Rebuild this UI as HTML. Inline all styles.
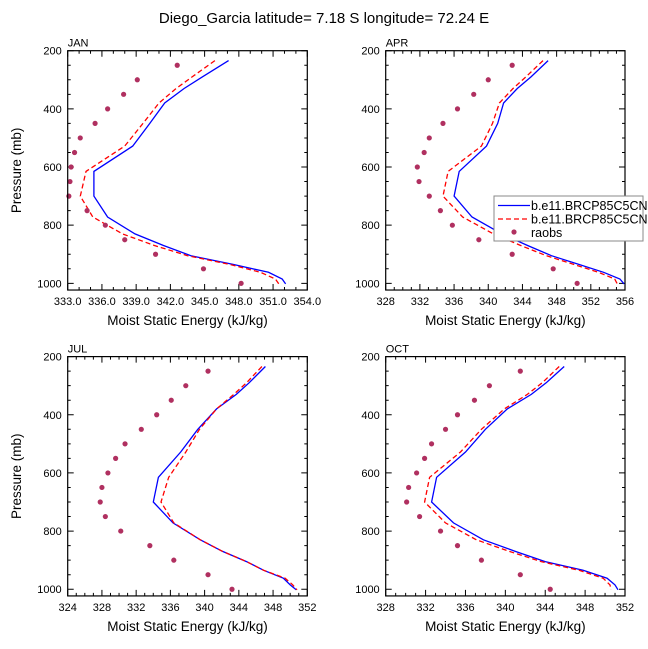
<!DOCTYPE html>
<html><head><meta charset="utf-8"><style>
html,body{margin:0;padding:0;background:#fff;overflow:hidden}
svg{display:block;font-family:"Liberation Sans",sans-serif}
</style></head><body>
<svg id="c" width="648" height="649" viewBox="0 0 648 649">
<text x="324" y="23" text-anchor="middle" font-size="15">Diego_Garcia  latitude= 7.18 S longitude= 72.24 E</text>
</svg>
<script>
const modelP=[234,290,330,380,450,528,615,700,772,830,870,905,935,962,985,1002];
const obsP=[250,300,350,400,450,500,550,600,650,700,750,800,850,900,950,1000];
const janBlue=[347.1,344.8,343.2,341.5,340.2,338.7,335.3,335.3,336.5,338.9,341.4,343.8,347.5,350.6,351.8,352.1];
const janRed=[345.9,343.9,342.5,341.0,339.6,338.0,334.6,334.1,335.2,337.8,340.6,343.5,347.2,349.9,351.2,351.5];
const janObs=[342.6,339.1,337.9,336.5,335.4,334.1,333.6,333.3,333.2,333.1,334.7,336.3,338.0,340.7,344.9,348.2];
const aprBlue=[347.0,345.0,343.4,341.8,341.1,339.8,336.6,336.0,338.1,341.6,344.6,347.4,350.6,353.5,355.4,355.9];
const aprRed=[346.4,344.4,342.9,341.3,340.5,339.2,335.3,334.7,337.0,340.6,343.8,346.8,350.0,352.9,354.8,355.1];
const aprObs=[342.8,340.0,338.3,336.4,334.7,333.1,332.5,331.7,331.9,333.1,334.4,335.8,338.9,342.8,347.6,350.4];
const julBlue=[347.1,345.2,343.7,341.4,339.2,337.2,334.6,334.0,336.3,339.5,342.1,344.9,346.9,349.2,350.0,350.7];
const julRed=[346.7,344.9,343.4,341.4,339.4,337.8,335.8,334.9,336.4,339.5,342.1,344.9,346.9,349.4,350.3,350.8];
const julObs=[340.4,337.8,336.1,334.4,332.6,330.7,329.6,328.7,328.0,327.8,328.4,330.2,333.6,336.4,340.4,343.2];
const octBlue=[345.9,344.1,342.6,340.2,338.0,336.0,333.1,332.6,334.8,337.8,341.0,344.0,347.8,350.2,351.0,351.3];
const octRed=[345.4,343.7,342.2,339.9,337.6,335.5,332.4,331.9,334.0,337.1,340.4,343.6,347.4,349.8,350.5,350.6];
const octObs=[341.5,338.4,336.9,335.2,334.0,332.6,331.9,331.1,330.3,330.1,331.4,333.5,335.2,337.6,341.5,344.5];
const yTicks=[200,400,600,800,1000];
const janTicks=["333.0","336.0","339.0","342.0","345.0","348.0","351.0","354.0"];
const aprTicks=["328","332","336","340","344","348","352","356"];
const julTicks=["324","328","332","336","340","344","348","352"];
const octTicks=["328","332","336","340","344","348","352"];

const NS="http://www.w3.org/2000/svg";
const svg=document.getElementById('c');
function mk(t,a,p){const e=document.createElementNS(NS,t);for(const k in a)e.setAttribute(k,a[k]);(p||svg).appendChild(e);return e;}

function panel(name,x0,x1,y0,xmin,xmax,xstep,xminor,xt,blue,red,obs,ytitle){
  const g=mk('g',{});
  
  
  const pTop=200,pBot=1023;
  const y1=y0+ (pBot-pTop)*0.2908;
  const sx=v=>x0+(v-xmin)/(xmax-xmin)*(x1-x0);
  const sy=p=>y0+(p-pTop)*0.2908;
  let d='';
  for(let v=xmin;v<=xmax+1e-6;v+=xminor){const X=sx(v);const L=(Math.abs((v-xmin)/xstep-Math.round((v-xmin)/xstep))<1e-6)?6:3;d+=`M${X},${y1}v${-L}M${X},${y0}v${L}`;}
  for(let p=200;p<=1000;p+=50){const Y=sy(p);const L=p%200===0?6:3;d+=`M${x0},${Y}h${L}M${x1},${Y}h${-L}`;}
  const tk=mk('path',{d:d,stroke:'#000','stroke-width':1,fill:'none'},g);
  
  
  xt.forEach((lab,i)=>{const t=mk('text',{x:sx(xmin+i*xstep),y:y1+15,'text-anchor':'middle','font-size':11},g);t.textContent=lab;
    
    });
  yTicks.forEach(p=>{const t=mk('text',{x:x0-6,y:sy(p)+4,'text-anchor':'end','font-size':11},g);t.textContent=p;
    
    });
  const xt2=mk('text',{x:(x0+x1)/2,y:y1+35,'text-anchor':'middle','font-size':13.5},g);xt2.textContent='Moist Static Energy (kJ/kg)';
  
  
  if(ytitle){const cy=(y0+y1)/2;const t=mk('text',{x:17,y:cy,'text-anchor':'middle','font-size':13.5,transform:`rotate(-90 17 ${cy})`,dy:'4'},g);t.textContent='Pressure (mb)';
    
    }
  const lb=mk('text',{x:x0,y:y0-4,'font-size':11},g);lb.textContent=name.toUpperCase();
  
  
  const pts=a=>a.map((v,i)=>sx(v).toFixed(1)+','+sy(modelP[i]).toFixed(1)).join(' ');
  const bl=mk('polyline',{points:pts(blue),fill:'none',stroke:'#0000ff','stroke-width':1.3},g);
  
  
  const rl=mk('polyline',{points:pts(red),fill:'none',stroke:'#ff0000','stroke-width':1.3,'stroke-dasharray':'5,3'},g);
  
  
  obs.forEach((v,i)=>{const c=mk('circle',{cx:sx(v),cy:sy(obsP[i]),r:2.6,fill:'#b03060'},g);
    
    });
  const fr=mk('rect',{x:x0,y:y0,width:x1-x0,height:y1-y0,fill:'none',stroke:'#000','stroke-width':1.2},g);
  
  
}
panel('jan',67.7,307.3,50.7,333,354,3,1,janTicks,janBlue,janRed,janObs,true);
panel('apr',385.7,625,50.7,328,356,4,1,aprTicks,aprBlue,aprRed,aprObs,false);
panel('jul',67.7,307.3,356.6,324,352,4,1,julTicks,julBlue,julRed,julObs,true);
panel('oct',385.7,625,356.6,328,352,4,1,octTicks,octBlue,octRed,octObs,false);

const lg=mk('g',{});


mk('rect',{x:494,y:196,width:149,height:45,fill:'#fff',stroke:'#888','stroke-width':1},lg);
const l1=mk('line',{x1:498,y1:205.5,x2:530,y2:205.5,stroke:'#0000ff','stroke-width':1.3},lg);


const l2=mk('line',{x1:498,y1:219,x2:530,y2:219,stroke:'#ff0000','stroke-width':1.3,'stroke-dasharray':'5,3'},lg);


const l3=mk('circle',{cx:514,cy:232,r:2.6,fill:'#b03060'},lg);


[['b.e11.BRCP85C5CN',210],['b.e11.BRCP85C5CN',223.5],['raobs',237]].forEach(([s,y])=>{const t=mk('text',{x:531,y:y,'font-size':12.5},lg);t.textContent=s;
  
  });
</script>
</body></html>
